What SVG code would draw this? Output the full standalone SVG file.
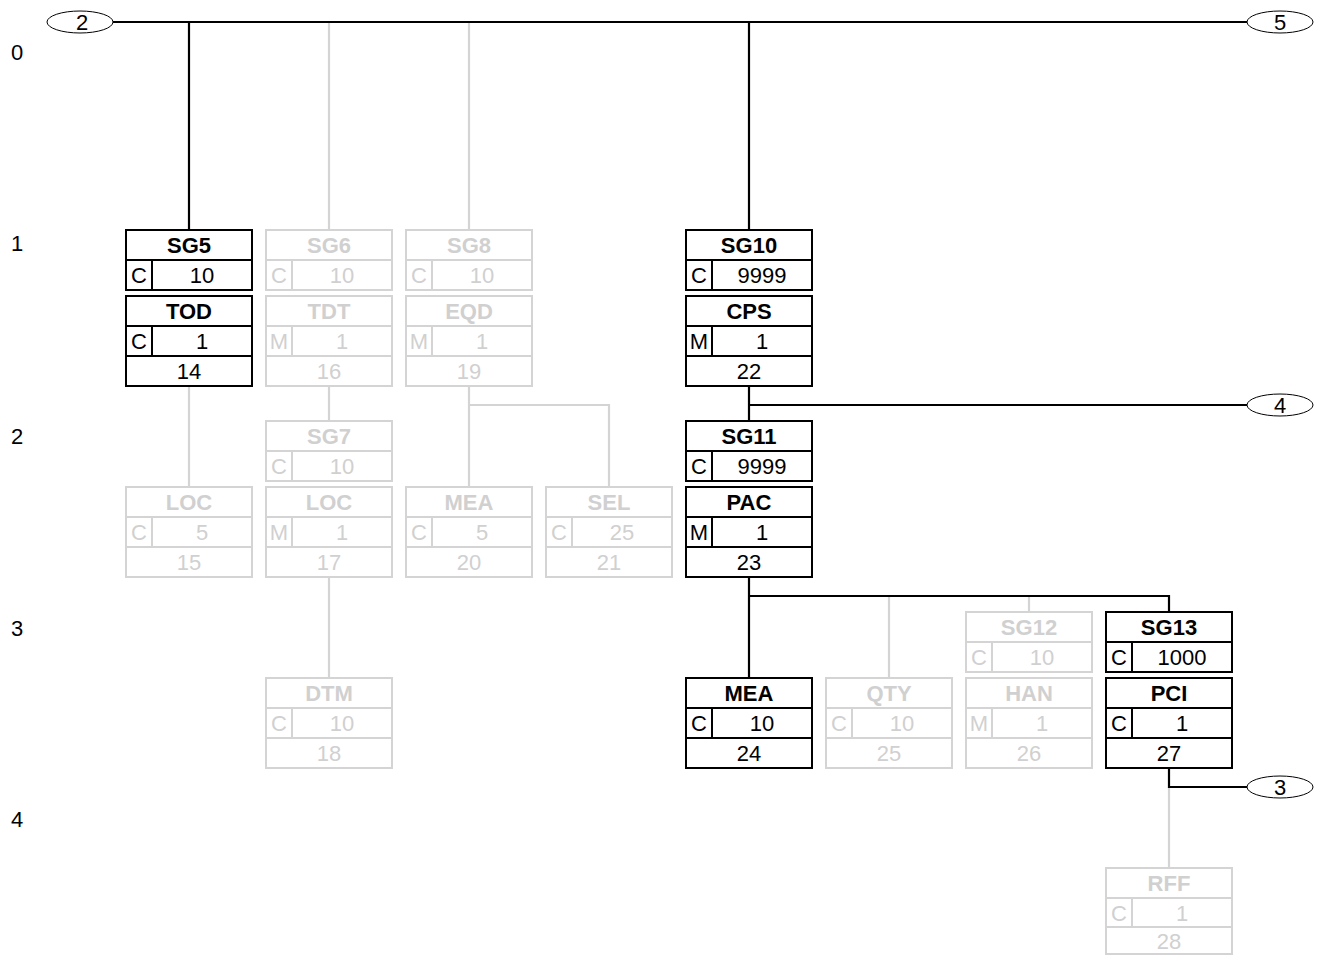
<svg xmlns="http://www.w3.org/2000/svg" width="1324" height="956" viewBox="0 0 1324 956">
<style>
text{font-family:"Liberation Sans",Arial,sans-serif;font-size:22px;text-anchor:middle}
.t{font-weight:bold}
.k rect,.k line{stroke:#000;stroke-width:2;fill:#fff}
.k text{fill:#000}
.g rect,.g line{stroke:#d4d4d4;stroke-width:2;fill:#fff}
.g text{fill:#d0d0d0}
.ck{stroke:#000;stroke-width:2.2;fill:none}
.cg{stroke:#d4d4d4;stroke-width:2.2;fill:none}
.ov ellipse{fill:#fff;stroke:#000;stroke-width:1}
.lv{text-anchor:start}
</style>
<rect width="1324" height="956" fill="#fff"/>
<g id="levels">
<text class="lv" x="11" y="60">0</text>
<text class="lv" x="11" y="251">1</text>
<text class="lv" x="11" y="444">2</text>
<text class="lv" x="11" y="636">3</text>
<text class="lv" x="11" y="827">4</text>
</g>
<g id="connectors">
<path class="cg" d="M329 22V230M469 22V230"/>
<path class="cg" d="M189 386V487M329 386V421M329 577V678M469 386V487M469 405H609V487M889 596V678M1029 596V612M1169 787V868"/>
<path class="ck" d="M113 22H1247M189 22V230M749 22V230"/>
<path class="ck" d="M749 386V421M749 405H1247M749 577V678M749 596H1169V612M1169 768V787H1247"/>
</g>
<g id="oval2" class="ov"><ellipse cx="80" cy="22" rx="33" ry="11"/><text x="82" y="30">2</text></g>
<g id="oval5" class="ov"><ellipse cx="1280" cy="22" rx="33" ry="11"/><text x="1280" y="30">5</text></g>
<g id="oval4" class="ov"><ellipse cx="1280" cy="405" rx="33" ry="11"/><text x="1280" y="413">4</text></g>
<g id="oval3" class="ov"><ellipse cx="1280" cy="787" rx="33" ry="11"/><text x="1280" y="795">3</text></g>

<g id="SG5" class="k">
<rect x="126" y="230" width="126" height="60"/><line x1="126" y1="260" x2="252" y2="260"/><line x1="152" y1="260" x2="152" y2="290"/>
<text class="t" x="189" y="253">SG5</text><text x="139" y="283">C</text><text x="202" y="283">10</text>
<rect x="126" y="296" width="126" height="90"/><line x1="126" y1="326" x2="252" y2="326"/><line x1="126" y1="356" x2="252" y2="356"/><line x1="152" y1="326" x2="152" y2="356"/>
<text class="t" x="189" y="319">TOD</text><text x="139" y="349">C</text><text x="202" y="349">1</text><text x="189" y="379">14</text>
</g>
<g id="SG6" class="g">
<rect x="266" y="230" width="126" height="60"/><line x1="266" y1="260" x2="392" y2="260"/><line x1="292" y1="260" x2="292" y2="290"/>
<text class="t" x="329" y="253">SG6</text><text x="279" y="283">C</text><text x="342" y="283">10</text>
<rect x="266" y="296" width="126" height="90"/><line x1="266" y1="326" x2="392" y2="326"/><line x1="266" y1="356" x2="392" y2="356"/><line x1="292" y1="326" x2="292" y2="356"/>
<text class="t" x="329" y="319">TDT</text><text x="279" y="349">M</text><text x="342" y="349">1</text><text x="329" y="379">16</text>
</g>
<g id="SG8" class="g">
<rect x="406" y="230" width="126" height="60"/><line x1="406" y1="260" x2="532" y2="260"/><line x1="432" y1="260" x2="432" y2="290"/>
<text class="t" x="469" y="253">SG8</text><text x="419" y="283">C</text><text x="482" y="283">10</text>
<rect x="406" y="296" width="126" height="90"/><line x1="406" y1="326" x2="532" y2="326"/><line x1="406" y1="356" x2="532" y2="356"/><line x1="432" y1="326" x2="432" y2="356"/>
<text class="t" x="469" y="319">EQD</text><text x="419" y="349">M</text><text x="482" y="349">1</text><text x="469" y="379">19</text>
</g>
<g id="SG10" class="k">
<rect x="686" y="230" width="126" height="60"/><line x1="686" y1="260" x2="812" y2="260"/><line x1="712" y1="260" x2="712" y2="290"/>
<text class="t" x="749" y="253">SG10</text><text x="699" y="283">C</text><text x="762" y="283">9999</text>
<rect x="686" y="296" width="126" height="90"/><line x1="686" y1="326" x2="812" y2="326"/><line x1="686" y1="356" x2="812" y2="356"/><line x1="712" y1="326" x2="712" y2="356"/>
<text class="t" x="749" y="319">CPS</text><text x="699" y="349">M</text><text x="762" y="349">1</text><text x="749" y="379">22</text>
</g>

<g id="LOC15" class="g">
<rect x="126" y="487" width="126" height="90"/><line x1="126" y1="517" x2="252" y2="517"/><line x1="126" y1="547" x2="252" y2="547"/><line x1="152" y1="517" x2="152" y2="547"/>
<text class="t" x="189" y="510">LOC</text><text x="139" y="540">C</text><text x="202" y="540">5</text><text x="189" y="570">15</text>
</g>
<g id="SG7" class="g">
<rect x="266" y="421" width="126" height="60"/><line x1="266" y1="451" x2="392" y2="451"/><line x1="292" y1="451" x2="292" y2="481"/>
<text class="t" x="329" y="444">SG7</text><text x="279" y="474">C</text><text x="342" y="474">10</text>
<rect x="266" y="487" width="126" height="90"/><line x1="266" y1="517" x2="392" y2="517"/><line x1="266" y1="547" x2="392" y2="547"/><line x1="292" y1="517" x2="292" y2="547"/>
<text class="t" x="329" y="510">LOC</text><text x="279" y="540">M</text><text x="342" y="540">1</text><text x="329" y="570">17</text>
</g>
<g id="MEA20" class="g">
<rect x="406" y="487" width="126" height="90"/><line x1="406" y1="517" x2="532" y2="517"/><line x1="406" y1="547" x2="532" y2="547"/><line x1="432" y1="517" x2="432" y2="547"/>
<text class="t" x="469" y="510">MEA</text><text x="419" y="540">C</text><text x="482" y="540">5</text><text x="469" y="570">20</text>
</g>
<g id="SEL21" class="g">
<rect x="546" y="487" width="126" height="90"/><line x1="546" y1="517" x2="672" y2="517"/><line x1="546" y1="547" x2="672" y2="547"/><line x1="572" y1="517" x2="572" y2="547"/>
<text class="t" x="609" y="510">SEL</text><text x="559" y="540">C</text><text x="622" y="540">25</text><text x="609" y="570">21</text>
</g>
<g id="SG11" class="k">
<rect x="686" y="421" width="126" height="60"/><line x1="686" y1="451" x2="812" y2="451"/><line x1="712" y1="451" x2="712" y2="481"/>
<text class="t" x="749" y="444">SG11</text><text x="699" y="474">C</text><text x="762" y="474">9999</text>
<rect x="686" y="487" width="126" height="90"/><line x1="686" y1="517" x2="812" y2="517"/><line x1="686" y1="547" x2="812" y2="547"/><line x1="712" y1="517" x2="712" y2="547"/>
<text class="t" x="749" y="510">PAC</text><text x="699" y="540">M</text><text x="762" y="540">1</text><text x="749" y="570">23</text>
</g>

<g id="DTM18" class="g">
<rect x="266" y="678" width="126" height="90"/><line x1="266" y1="708" x2="392" y2="708"/><line x1="266" y1="738" x2="392" y2="738"/><line x1="292" y1="708" x2="292" y2="738"/>
<text class="t" x="329" y="701">DTM</text><text x="279" y="731">C</text><text x="342" y="731">10</text><text x="329" y="761">18</text>
</g>
<g id="MEA24" class="k">
<rect x="686" y="678" width="126" height="90"/><line x1="686" y1="708" x2="812" y2="708"/><line x1="686" y1="738" x2="812" y2="738"/><line x1="712" y1="708" x2="712" y2="738"/>
<text class="t" x="749" y="701">MEA</text><text x="699" y="731">C</text><text x="762" y="731">10</text><text x="749" y="761">24</text>
</g>
<g id="QTY25" class="g">
<rect x="826" y="678" width="126" height="90"/><line x1="826" y1="708" x2="952" y2="708"/><line x1="826" y1="738" x2="952" y2="738"/><line x1="852" y1="708" x2="852" y2="738"/>
<text class="t" x="889" y="701">QTY</text><text x="839" y="731">C</text><text x="902" y="731">10</text><text x="889" y="761">25</text>
</g>
<g id="SG12" class="g">
<rect x="966" y="612" width="126" height="60"/><line x1="966" y1="642" x2="1092" y2="642"/><line x1="992" y1="642" x2="992" y2="672"/>
<text class="t" x="1029" y="635">SG12</text><text x="979" y="665">C</text><text x="1042" y="665">10</text>
<rect x="966" y="678" width="126" height="90"/><line x1="966" y1="708" x2="1092" y2="708"/><line x1="966" y1="738" x2="1092" y2="738"/><line x1="992" y1="708" x2="992" y2="738"/>
<text class="t" x="1029" y="701">HAN</text><text x="979" y="731">M</text><text x="1042" y="731">1</text><text x="1029" y="761">26</text>
</g>
<g id="SG13" class="k">
<rect x="1106" y="612" width="126" height="60"/><line x1="1106" y1="642" x2="1232" y2="642"/><line x1="1132" y1="642" x2="1132" y2="672"/>
<text class="t" x="1169" y="635">SG13</text><text x="1119" y="665">C</text><text x="1182" y="665">1000</text>
<rect x="1106" y="678" width="126" height="90"/><line x1="1106" y1="708" x2="1232" y2="708"/><line x1="1106" y1="738" x2="1232" y2="738"/><line x1="1132" y1="708" x2="1132" y2="738"/>
<text class="t" x="1169" y="701">PCI</text><text x="1119" y="731">C</text><text x="1182" y="731">1</text><text x="1169" y="761">27</text>
</g>

<g id="RFF28" class="g">
<rect x="1106" y="868" width="126" height="86"/><line x1="1106" y1="898" x2="1232" y2="898"/><line x1="1106" y1="927" x2="1232" y2="927"/><line x1="1132" y1="898" x2="1132" y2="927"/>
<text class="t" x="1169" y="891">RFF</text><text x="1119" y="921">C</text><text x="1182" y="921">1</text><text x="1169" y="949">28</text>
</g>
</svg>
